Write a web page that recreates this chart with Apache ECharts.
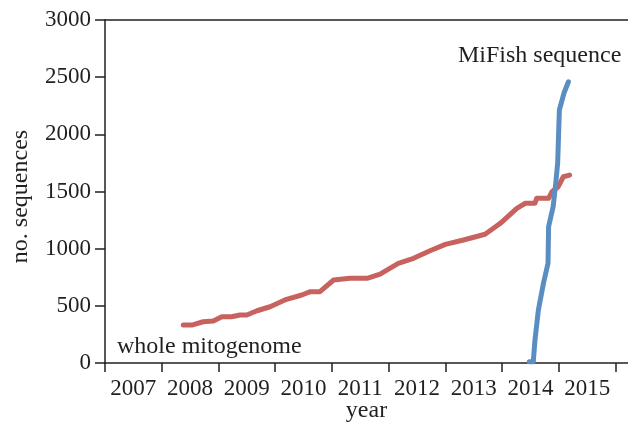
<!DOCTYPE html>
<html>
<head>
<meta charset="utf-8">
<script src="https://cdn.jsdelivr.net/npm/echarts@6/dist/echarts.min.js"></script>
<style>
  html, body { margin: 0; padding: 0; background: #fff; }
  #chart { width: 628px; height: 422px; }
</style>
</head>
<body>
<div id="chart"></div>
<script>
// year (decimal) and number of sequences
const mitoYears = [2008.38, 2008.53, 2008.73, 2008.91, 2009.06, 2009.23, 2009.38, 2009.50, 2009.68, 2009.91,
  2010.20, 2010.47, 2010.62, 2010.79, 2011.03, 2011.32, 2011.62, 2011.85, 2012.17, 2012.44,
  2012.73, 2013.00, 2013.32, 2013.70, 2013.97, 2014.26, 2014.41, 2014.58, 2014.61, 2014.82,
  2014.88, 2014.99, 2015.08, 2015.19]
const mitoCounts = [332, 332, 361, 367, 405, 405, 420, 420, 457, 492,
  557, 595, 624, 624, 726, 741, 741, 778, 872, 916,
  982, 1038, 1076, 1126, 1222, 1353, 1397, 1397, 1440, 1440,
  1498, 1542, 1629, 1644]

const mifishYears = [2014.48, 2014.55, 2014.58, 2014.64, 2014.73, 2014.81, 2014.82, 2014.90, 2014.94, 2014.98, 2015.01, 2015.09, 2015.17]
const mifishCounts = [11, 11, 201, 464, 697, 872, 1192, 1367, 1542, 1747, 2213, 2359, 2460]

const yearTicks = [2007, 2008, 2009, 2010, 2011, 2012, 2013, 2014, 2015, 2016]
const yearLabels = ['2007', '2008', '2009', '2010', '2011', '2012', '2013', '2014', '2015']

const font = 'Liberation Serif'
const ink = '#231f20'
const chart = echarts.init(document.getElementById('chart'), null, { renderer: 'canvas' })

chart.setOption({
  animation: false,
  textStyle: { fontFamily: font, color: ink },
  grid: { left: 105, top: 20, right: 0, bottom: 59, containLabel: false, outerBoundsMode: 'none' },
  xAxis: [{
    type: 'value', min: 2007, max: 2016.22,
    name: 'year', nameLocation: 'middle', nameGap: 36, nameMoveOverlap: false,
    nameTextStyle: { fontFamily: font, fontSize: 24, color: ink },
    axisLine: { lineStyle: { color: ink, width: 1.5 } },
    axisTick: { length: 9, lineStyle: { color: ink, width: 1.5 }, customValues: yearTicks },
    axisLabel: {
      fontFamily: font, fontSize: 23, color: ink, margin: 14,
      customValues: yearLabels.map(y => +y + 0.5),
      formatter: v => String(Math.floor(v))
    },
    splitLine: { show: false }
  }, {
    type: 'value', min: 2007, max: 2016.22, position: 'top',
    axisLine: { lineStyle: { color: ink, width: 1.5 } },
    axisTick: { show: false }, axisLabel: { show: false }, splitLine: { show: false }
  }],
  yAxis: {
    type: 'value', min: 0, max: 3000, interval: 500,
    name: 'no. sequences', nameLocation: 'middle', nameGap: 72, nameRotate: 90,
    nameTextStyle: { fontFamily: font, fontSize: 24, color: ink, padding: [0, 10, 0, 0] },
    axisLine: { show: true, lineStyle: { color: ink, width: 1.5 } },
    axisTick: { show: true, length: 10, lineStyle: { color: ink, width: 1.5 } },
    axisLabel: { fontFamily: font, fontSize: 23, color: ink, margin: 14, formatter: v => String(v) },
    splitLine: { show: false }
  },
  graphic: [
    { type: 'text', left: 458, top: 44, style: { text: 'MiFish sequence', font: '24px "Liberation Serif"', fill: ink } },
    { type: 'text', left: 117, top: 335, style: { text: 'whole mitogenome', font: '24px "Liberation Serif"', fill: ink } }
  ],
  series: [{
    name: 'whole mitogenome', type: 'line', showSymbol: false,
    data: mitoYears.map((y, i) => [y, mitoCounts[i]]),
    lineStyle: { color: '#c8625f', width: 5, cap: 'round', join: 'round' }
  }, {
    name: 'MiFish sequence', type: 'line', showSymbol: false,
    data: mifishYears.map((y, i) => [y, mifishCounts[i]]),
    lineStyle: { color: '#5a8ec2', width: 5, cap: 'round', join: 'round' }
  }]
})
</script>
</body>
</html>
